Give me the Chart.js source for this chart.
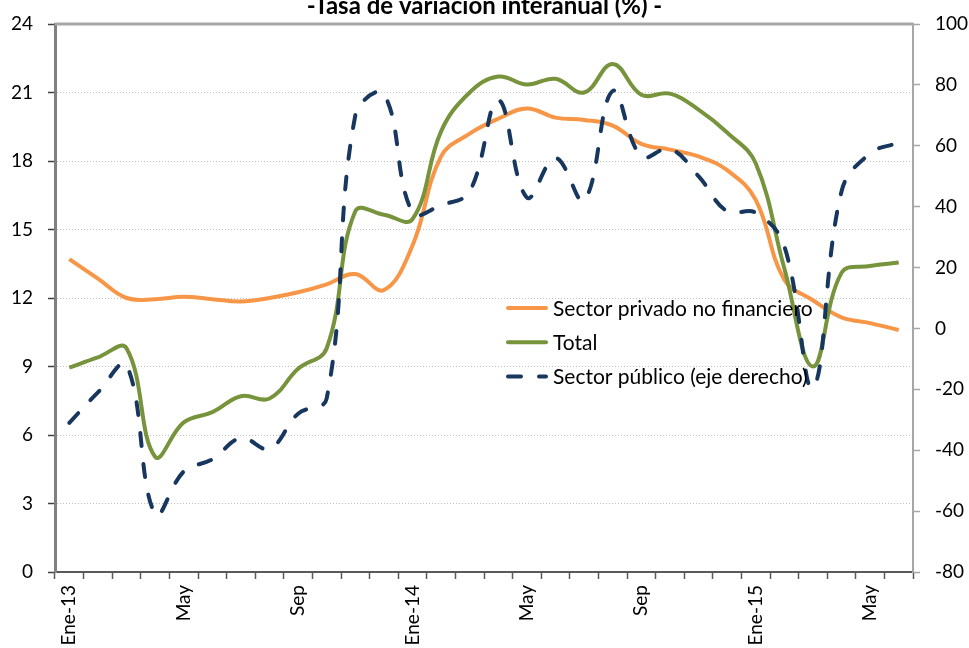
<!DOCTYPE html>
<html>
<head>
<meta charset="utf-8">
<script src="https://cdn.jsdelivr.net/npm/chart.js@4.4.1/dist/chart.umd.min.js"></script>
<style>
  html, body { margin: 0; padding: 0; background: #fff; }
  #wrap { width: 969px; height: 648px; overflow: hidden; position: relative; }
  #chart { position: absolute; left: 0; top: -10px; }
</style>
</head>
<body>
<div id="wrap"><canvas id="chart" width="969" height="658"></canvas></div>
<script>
// monthly, Ene-13 .. Jun-15; only every 4th month labelled
const tickLabels = ['Ene-13','','','','May','','','','Sep','','','',
                    'Ene-14','','','','May','','','','Sep','','','',
                    'Ene-15','','','','May',''];

const privado = [13.7, 12.85, 12.0, 11.95, 12.05, 11.95, 11.85, 12.0, 12.25, 12.6,
                 13.05, 12.35, 14.3, 18.2, 19.2, 19.85, 20.3, 19.9, 19.8, 19.55,
                 18.75, 18.5, 18.2, 17.6, 16.3, 12.8, 11.9, 11.15, 10.9, 10.6];

const total = [8.95, 9.4, 9.8, 5.05, 6.55, 7.0, 7.7, 7.6, 8.9, 9.8,
               15.8, 15.65, 15.45, 19.3, 21.0, 21.7, 21.35, 21.6, 21.0, 22.25,
               20.9, 20.95, 20.25, 19.25, 17.9, 13.3, 9.0, 13.1, 13.4, 13.55];

const publico = [-31, -21, -12, -61, -47, -43, -36, -39.5, -28, -23,
                 70, 77, 38, 40.5, 45, 75, 43, 56, 42, 78,
                 56.5, 59, 50, 38.5, 38, 27, -19.5, 45, 57.5, 61];

const FONT = 'Lato';

// plot frame (grey top border like excel)
const frame = {
  id: 'frame',
  beforeDatasetsDraw(chart) {
    const {ctx, chartArea: a} = chart;
    ctx.save();
    ctx.strokeStyle = '#a6a6a6';
    ctx.lineWidth = 3;
    ctx.beginPath();
    ctx.moveTo(a.left, a.top);
    ctx.lineTo(a.right, a.top);
    ctx.stroke();
    ctx.restore();
  }
};

// legend sits inside the plot area
const legendInside = {
  id: 'legendInside',
  afterDatasetsDraw(chart) {
    const {ctx, chartArea} = chart;
    const x0 = chartArea.left + 451, y0 = chartArea.top + 284, rowGap = 34.3;
    ctx.save();
    ctx.font = '21px ' + FONT;
    ctx.textBaseline = 'middle';
    chart.data.datasets.forEach((ds, i) => {
      const y = y0 + i * rowGap;
      ctx.beginPath();
      ctx.setLineDash(ds.borderDash || []);
      ctx.lineCap = 'round';
      ctx.strokeStyle = ds.borderColor;
      ctx.lineWidth = ds.borderWidth;
      ctx.moveTo(x0 + 2, y);
      ctx.lineTo(x0 + 40, y);
      ctx.stroke();
      ctx.setLineDash([]);
      ctx.fillStyle = '#000';
      ctx.fillText(ds.label, x0 + 47, y + 1);
    });
    ctx.restore();
  }
};

new Chart(document.getElementById('chart'), {
  type: 'line',
  data: {
    labels: tickLabels,
    datasets: [{
      label: 'Sector privado no financiero',
      data: privado,
      yAxisID: 'y',
      borderColor: '#F79646',
      borderWidth: 4,
      order: 3
    }, {
      label: 'Total',
      data: total,
      yAxisID: 'y',
      borderColor: '#77933C',
      borderWidth: 4,
      order: 2
    }, {
      label: 'Sector público (eje derecho)',
      data: publico,
      yAxisID: 'y2',
      borderColor: '#17375E',
      borderWidth: 4,
      borderDash: [13, 18],
      borderCapStyle: 'round',
      order: 1
    }]
  },
  options: {
    responsive: false,
    animation: false,
    devicePixelRatio: 1,
    layout: { padding: 0 },
    elements: {
      point: { radius: 0 },
      line: { tension: 0.4, fill: false }
    },
    plugins: {
      legend: { display: false },
      tooltip: { enabled: false },
      title: {
        display: true,
        text: '-Tasa de variación interanual (%) -',
        color: '#000',
        font: { family: FONT, size: 24, weight: 'bold' },
        padding: { top: 1.5, bottom: 3.7 }
      }
    },
    scales: {
      x: {
        offset: true,
        afterFit: s => { s.height = 76; },
        grid: {
          offset: true,
          drawOnChartArea: false,
          tickLength: 7,
          tickColor: '#595959',
          tickWidth: 1.5
        },
        border: { color: '#595959', width: 2 },
        ticks: {
          autoSkip: false,
          minRotation: 90,
          maxRotation: 90,
          padding: 6,
          color: '#000',
          font: { family: FONT, size: 19 }
        }
      },
      y: {
        position: 'left',
        min: 0,
        max: 24,
        afterFit: s => { s.width = 55; },
        ticks: {
          stepSize: 3,
          padding: 15,
          color: '#000',
          font: { family: FONT, size: 19 }
        },
        grid: {
          color: '#bfbfbf',
          lineWidth: 1,
          tickLength: 7,
          tickColor: '#404040',
          tickWidth: 1.5
        },
        border: { color: '#808080', width: 3, dash: [1, 2] }
      },
      y2: {
        position: 'right',
        min: -80,
        max: 100,
        afterFit: s => { s.width = 56; },
        ticks: {
          stepSize: 20,
          padding: 15,
          color: '#000',
          font: { family: FONT, size: 19 }
        },
        grid: {
          drawOnChartArea: false,
          tickLength: 7,
          tickColor: '#a6a6a6',
          tickWidth: 1.5
        },
        border: { color: '#a6a6a6', width: 2 }
      }
    }
  },
  plugins: [frame, legendInside]
});
</script>
</body>
</html>
